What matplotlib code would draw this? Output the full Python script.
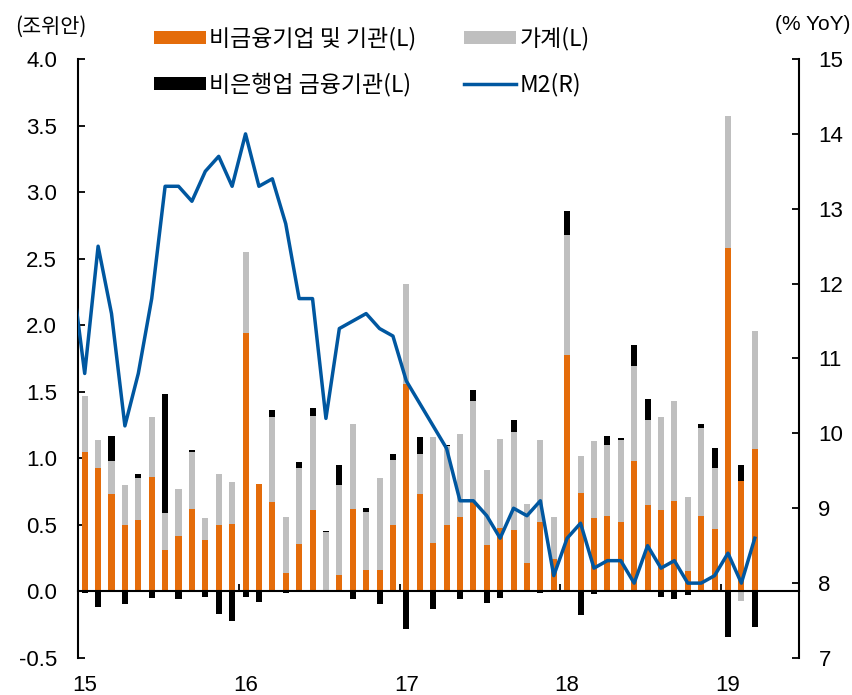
import matplotlib
matplotlib.use("Agg")
import matplotlib.pyplot as plt
import numpy as np

plt.rcParams['font.family'] = ['Liberation Sans', 'Noto Sans CJK KR', 'DejaVu Sans']
plt.rcParams['axes.unicode_minus'] = True

# 월별 자료 (2015.01 ~ 2019.03), 단위: 조위안
corp = [1.05, 0.93, 0.73, 0.50, 0.54, 0.86, 0.31, 0.42, 0.62, 0.39, 0.50, 0.51,
        1.94, 0.81, 0.67, 0.14, 0.36, 0.61, 0.00, 0.12, 0.62, 0.16, 0.16, 0.50,
        1.56, 0.73, 0.365, 0.50, 0.56, 0.68, 0.35, 0.48, 0.46, 0.21, 0.52, 0.24,
        1.78, 0.74, 0.555, 0.57, 0.525, 0.98, 0.65, 0.61, 0.68, 0.15, 0.57, 0.47,
        2.58, 0.83, 1.07]
household = [0.42, 0.21, 0.25, 0.30, 0.31, 0.45, 0.28, 0.35, 0.43, 0.16, 0.38, 0.315,
             0.61, 0.00, 0.64, 0.42, 0.57, 0.71, 0.45, 0.68, 0.635, 0.44, 0.69, 0.49,
             0.75, 0.30, 0.795, 0.59, 0.62, 0.75, 0.56, 0.665, 0.735, 0.45, 0.62, 0.32,
             0.90, 0.28, 0.575, 0.53, 0.615, 0.71, 0.635, 0.70, 0.75, 0.56, 0.66, 0.455,
             0.99, -0.07, 0.89]
nonbank = [-0.015, -0.12, 0.19, -0.095, 0.035, -0.05, 0.89, -0.06, 0.01, -0.045, -0.17, -0.22,
           -0.045, -0.08, 0.05, -0.01, 0.045, 0.06, 0.005, 0.15, -0.06, 0.03, -0.095, 0.045,
           -0.28, 0.13, -0.13, 0.01, -0.06, 0.08, -0.09, -0.05, 0.09, 0.0, -0.015, 0.0,
           0.18, -0.18, -0.02, 0.07, 0.01, 0.165, 0.16, -0.045, -0.06, -0.025, 0.03, 0.15,
           -0.34, 0.12, -0.27]
# M2 증가율 (% YoY), 2014.12 ~ 2019.03
m2 = [12.2, 10.8, 12.5, 11.6, 10.1, 10.8, 11.8, 13.3, 13.3, 13.1, 13.5, 13.7, 13.3,
      14.0, 13.3, 13.4, 12.8, 11.8, 11.8, 10.2, 11.4, 11.5, 11.6, 11.4, 11.3,
      10.7, 10.4, 10.1, 9.8, 9.1, 9.1, 8.9, 8.6, 9.0, 8.9, 9.1, 8.1,
      8.6, 8.8, 8.2, 8.3, 8.3, 8.0, 8.5, 8.2, 8.3, 8.0, 8.0, 8.1,
      8.4, 8.0, 8.6]
year_labels = ['15', '16', '17', '18', '19']

c_corp = '#E46C0A'
c_house = '#BFBFBF'
c_nonbank = '#000000'
c_m2 = '#0057A0'

x = np.arange(len(corp))
x_m2 = np.arange(-1, len(corp))

fig = plt.figure(figsize=(8.52, 6.95), dpi=100)
ax = fig.add_axes([78/852, 1 - 658/695, 721/852, 599/695])

# 양수/음수 누적을 따로 계산
pos_base = np.zeros(len(x))
neg_base = np.zeros(len(x))
handles = []
for vals, col, lab in [(corp, c_corp, '비금융기업 및 기관(L)'),
                       (household, c_house, '가계(L)'),
                       (nonbank, c_nonbank, '비은행업 금융기관(L)')]:
    v = np.array(vals)
    bottom = np.where(v >= 0, pos_base, neg_base)
    b = ax.bar(x, v, width=0.45, bottom=bottom, color=col, label=lab, zorder=2)
    handles.append(b)
    pos_base = pos_base + np.where(v > 0, v, 0)
    neg_base = neg_base + np.where(v < 0, v, 0)

ax.set_xlim(-0.5, 53.3)
ax.set_ylim(-0.5, 4.0)
ax.set_yticks(np.arange(-0.5, 4.01, 0.5))
ax.set_yticklabels([f'{t:.1f}' for t in np.arange(-0.5, 4.01, 0.5)])

ax.spines['top'].set_visible(False)
ax.spines['bottom'].set_position(('data', 0))
ax.spines['bottom'].set_linewidth(1.5)
ax.spines['left'].set_linewidth(1.5)
ax.spines['right'].set_visible(False)

# 연도 경계 눈금
ax.set_xticks(np.arange(11.5, 50, 12))
ax.tick_params(axis='x', direction='in', length=5, width=1.3, labelbottom=False)
ax.tick_params(axis='y', direction='in', length=5, width=1.3, labelsize=16, pad=15)

sec = ax.secondary_xaxis('bottom')
sec.set_xticks(np.arange(0, 51, 12))
sec.set_xticklabels(year_labels)
sec.tick_params(length=0, labelsize=16, pad=12)
sec.spines['bottom'].set_visible(False)

ax2 = ax.twinx()
line, = ax2.plot(x_m2, m2, color=c_m2, lw=2.5, label='M2(R)', zorder=3)
ax2.set_ylim(7, 15)
ax2.set_yticks(range(7, 16))
ax2.set_xlim(-0.5, 53.3)
for s in ['top', 'bottom', 'left']:
    ax2.spines[s].set_visible(False)
ax2.spines['right'].set_linewidth(1.5)
ax2.tick_params(axis='y', direction='in', length=5, width=1.3, labelsize=16, pad=14)

fig.text(15/852, 1 - 27/695, '(조위안)', fontsize=15, va='center', ha='left',
         family=['Noto Sans CJK KR'])
fig.text(850/852, 1 - 24/695, '(% YoY)', fontsize=15, va='center', ha='right')

fig.legend([handles[0], handles[2], handles[1], line],
           ['비금융기업 및 기관(L)', '비은행업 금융기관(L)', '가계(L)', 'M2(R)'],
           ncol=2, loc='upper left', bbox_to_anchor=(154/852, 1 - 27/695),
           frameon=False, prop={'family': ['Noto Sans CJK KR'], 'size': 16.5},
           handlelength=2.27, handleheight=0.52,
           handletextpad=0.13, labelspacing=0.97, columnspacing=2.1,
           borderpad=0, borderaxespad=0)

fig.savefig('out.png', dpi=100)
